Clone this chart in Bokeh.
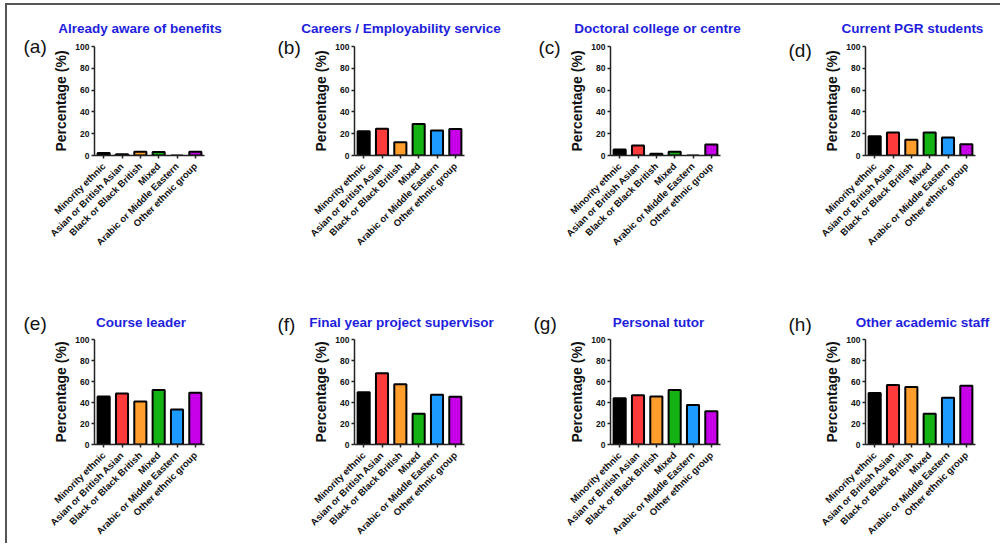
import math
from bokeh.plotting import figure
from bokeh.layouts import column, row
from bokeh.models import Label, FactorRange, Range1d, ColumnDataSource, FixedTicker
from bokeh.embed import file_html
from bokeh.resources import INLINE

# ---------------- data ----------------
categories = ["Minority ethnic", "Asian or British Asian", "Black or Black British",
              "Mixed", "Arabic or Middle Eastern", "Other ethnic group"]
bar_colors = ["#000000", "#ff3a3a", "#ff9e2c", "#13b313", "#1e9bff", "#c800ea"]

letters = ["(a)", "(b)", "(c)", "(d)", "(e)", "(f)", "(g)", "(h)"]
titles = ["Already aware of benefits", "Careers / Employability service",
          "Doctoral college or centre", "Current PGR students",
          "Course leader", "Final year project supervisor",
          "Personal tutor", "Other academic staff"]

aware_of_benefits = [2.4, 1.2, 3.4, 3.3, 0.0, 3.4]
careers_service = [22.3, 24.5, 12.2, 29.0, 23.0, 24.2]
doctoral_college = [5.5, 9.2, 1.5, 3.4, 0.0, 10.0]
current_pgr = [17.7, 21.0, 14.4, 21.0, 16.5, 10.4]
course_leader = [45.7, 48.5, 41.0, 51.8, 33.4, 49.4]
project_supervisor = [49.7, 67.8, 57.4, 29.4, 47.5, 45.4]
personal_tutor = [44.0, 47.0, 45.7, 52.0, 37.7, 31.6]
other_academic = [49.0, 56.6, 54.7, 29.4, 44.6, 56.0]

series = [aware_of_benefits, careers_service, doctoral_college, current_pgr,
          course_leader, project_supervisor, personal_tutor, other_academic]
y_ticks = [0, 20, 40, 60, 80, 100]

# ---------------- layout / style ----------------
FONT = "Liberation Sans"
TITLE_BLUE = "#1e1edc"
col_widths = [260, 256, 255, 222]
row_heights = [293, 245]
frame_w, frame_h = 110, 109
border_left, border_top = 87, 41
# canvas positions (pixels from each figure's top-left corner)
letter_x = [16, 10, 15, 10, 16, 10, 10, 10]
letter_y = [41, 42, 42, 45, 25, 26, 25, 26]
title_x = [132.5, 133.5, 134, 134, 133.5, 134, 135, 144]
title_y = [23, 23, 23, 23, 24, 24, 24, 24]


def make_panel(i, width, height):
    src = ColumnDataSource(dict(cat=categories, val=series[i], color=bar_colors))
    p = figure(x_range=FactorRange(factors=categories), y_range=Range1d(0, 100),
               width=width, height=height, output_backend="svg", toolbar_location=None,
               min_border_left=border_left, min_border_right=width - border_left - frame_w,
               min_border_top=border_top, min_border_bottom=height - border_top - frame_h)
    p.vbar(x="cat", top="val", width=0.66, source=src, fill_color="color",
           line_color="black", line_width=2)
    p.xgrid.visible = False
    p.ygrid.visible = False
    p.outline_line_color = None
    p.background_fill_color = "white"
    p.border_fill_color = "white"

    for ax in (p.xaxis[0], p.yaxis[0]):
        ax.axis_line_width = 1.5
        ax.axis_line_color = "#222222"
        ax.major_tick_line_color = "#222222"
        ax.major_tick_line_width = 1.5
        ax.major_tick_in = 0
        ax.major_tick_out = 3
        ax.minor_tick_line_color = None
        ax.major_label_text_font = FONT
        ax.major_label_text_font_style = "bold"
        ax.major_label_text_color = "#111111"

    p.yaxis.ticker = FixedTicker(ticks=y_ticks)
    p.yaxis.major_label_text_font_size = "8.5px"
    p.yaxis.major_label_standoff = 2
    p.yaxis.axis_label = "Percentage (%)"
    p.yaxis.axis_label_text_font = FONT
    p.yaxis.axis_label_text_font_style = "bold"
    p.yaxis.axis_label_text_font_size = "14px"
    p.yaxis.axis_label_text_color = "#111111"
    p.yaxis.axis_label_standoff = 3

    p.xaxis.major_label_orientation = math.pi / 4
    p.xaxis.major_label_text_font_size = "9.5px"
    p.xaxis.major_label_standoff = 6

    p.add_layout(Label(x=letter_x[i], y=letter_y[i], x_units="canvas", y_units="canvas",
                       text=letters[i], text_font=FONT, text_font_size="19px",
                       text_color="#111111", text_align="left", text_baseline="middle"),
                 "above")
    p.add_layout(Label(x=title_x[i], y=title_y[i], x_units="canvas", y_units="canvas",
                       text=titles[i], text_font=FONT, text_font_size="13.5px",
                       text_font_style="bold", text_color=TITLE_BLUE,
                       text_align="center", text_baseline="middle"),
                 "above")
    return p


rows = []
for r in range(2):
    figs = [make_panel(r * 4 + c, col_widths[c], row_heights[r]) for c in range(4)]
    rows.append(row(*figs))

layout = column(*rows, margin=(3, 0, 0, 5),
                styles={"border-top": "2px solid #555555",
                        "border-left": "2px solid #555555"})

open("out.html", "w").write(file_html(layout, INLINE))
